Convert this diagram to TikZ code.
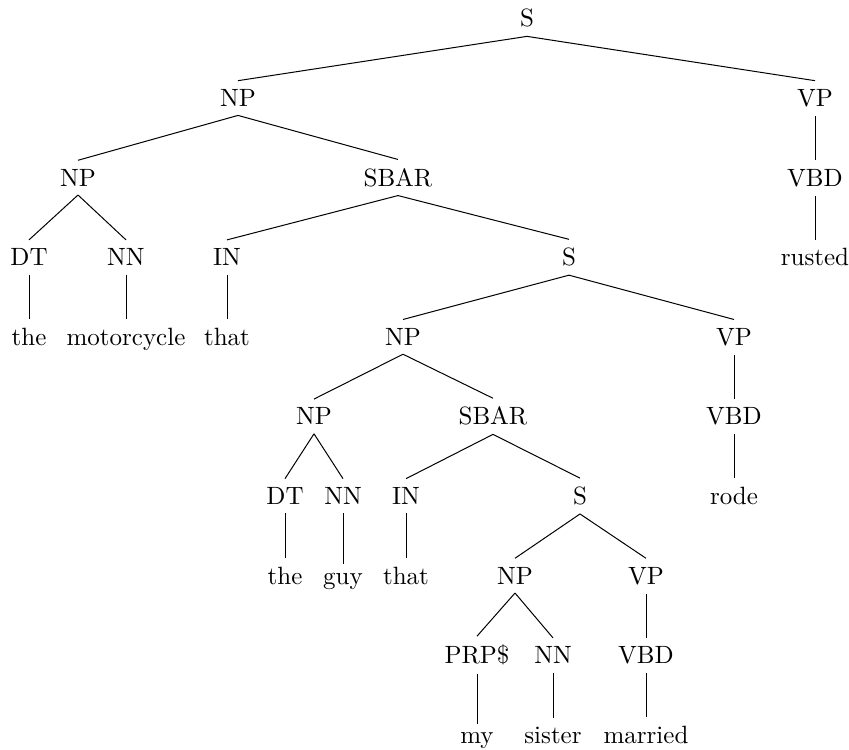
\documentclass[tikz,border=0pt]{standalone}
\usepackage{tikz}
\tikzset{tag/.style={anchor=base, inner sep=0.3333em}}
\def\lvl#1{\fpeval{27+79.6*#1}}

\begin{document}
\begin{tikzpicture}[x=0.4pt, y=-0.4pt]
			%%%%% START %%%%%
			
			\useasboundingbox (0, 0) rectangle (849, 750);
			
			\node[tag] (s) at (527, \lvl{0}) {S};
			
			\node[tag] (np) at (238, \lvl{1}) {NP};
			\node[tag] (vp) at (815, \lvl{1}) {VP};
			
			\node[tag] (npa) at (78, \lvl{2}) {NP};
			\node[tag] (sbar) at (398, \lvl{2}) {SBAR};
			\node[tag] (vbd) at (815, \lvl{2}) {VBD};
			
			\node[tag] (dta) at (29, \lvl{3}) {DT};
			\node[tag] (nna) at (126, \lvl{3}) {NN};
			\node[tag] (ina) at (227, \lvl{3}) {IN};
			\node[tag] (sa) at (569, \lvl{3}) {S};
			\node[tag] (rusted) at (815, \lvl{3}) {rusted};
			
			\node[tag] (thea) at (29, \lvl{4}) {the};
			\node[tag] (motorcycle) at (126, \lvl{4}) {motorcycle};
			\node[tag] (thata) at (227, \lvl{4}) {that};
			\node[tag] (npb) at (403, \lvl{4}) {NP};
			\node[tag] (vpb) at (734, \lvl{4}) {VP};
			
			\node[tag] (npc) at (314, \lvl{5}) {NP};
			\node[tag] (sbarb) at (493, \lvl{5}) {SBAR};
			\node[tag] (vbdb) at (734, \lvl{5}) {VBD};
			
			\node[tag] (dtb) at (285, \lvl{6}) {DT};
			\node[tag] (nnb) at (343, \lvl{6}) {NN};
			\node[tag] (inb) at (406, \lvl{6}) {IN};
			\node[tag] (sb) at (580, \lvl{6}) {S};
			\node[tag] (rode) at (734, \lvl{6}) {rode};
			
			\node[tag] (theb) at (285, \lvl{7}) {the};
			\node[tag] (guy) at (343, \lvl{7}) {guy};
			\node[tag] (thatb) at (406, \lvl{7}) {that};
			\node[tag] (npd) at (515, \lvl{7}) {NP};
			\node[tag] (vpc) at (646, \lvl{7}) {VP};
			
			\node[tag] (prp) at (477, \lvl{8}) {PRP\$};
			\node[tag] (nnc) at (553, \lvl{8}) {NN};
			\node[tag] (vbdc) at (646, \lvl{8}) {VBD};
			
			\node[tag] (my) at (477, \lvl{9}) {my};
			\node[tag] (sister) at (553, \lvl{9}) {sister};
			\node[tag] (married) at (646, \lvl{9}) {married};
			
			% edges
			\draw (s.south) -- (np.north);
			\draw (s.south) -- (vp.north);
			\draw (np.south) -- (npa.north);
			\draw (np.south) -- (sbar.north);
			\draw (vp.south) -- (vbd.north);
			\draw (npa.south) -- (dta.north);
			\draw (npa.south) -- (nna.north);
			\draw (sbar.south) -- (ina.north);
			\draw (sbar.south) -- (sa.north);
			\draw (vbd.south) -- (rusted.north);
			\draw (dta.south) -- (thea.north);
			\draw (nna.south) -- (motorcycle.north);
			\draw (ina.south) -- (thata.north);
			\draw (sa.south) -- (npb.north);
			\draw (sa.south) -- (vpb.north);
			\draw (npb.south) -- (npc.north);
			\draw (npb.south) -- (sbarb.north);
			\draw (vpb.south) -- (vbdb.north);
			\draw (npc.south) -- (dtb.north);
			\draw (npc.south) -- (nnb.north);
			\draw (sbarb.south) -- (inb.north);
			\draw (sbarb.south) -- (sb.north);
			\draw (vbdb.south) -- (rode.north);
			\draw (dtb.south) -- (theb.north);
			\draw (nnb.south) -- (guy.north);
			\draw (inb.south) -- (thatb.north);
			\draw (sb.south) -- (npd.north);
			\draw (sb.south) -- (vpc.north);
			\draw (npd.south) -- (prp.north);
			\draw (npd.south) -- (nnc.north);
			\draw (vpc.south) -- (vbdc.north);
			\draw (prp.south) -- (my.north);
			\draw (nnc.south) -- (sister.north);
			\draw (vbdc.south) -- (married.north);
			
			%%%%% END %%%%%
		\end{tikzpicture}
\end{document}
